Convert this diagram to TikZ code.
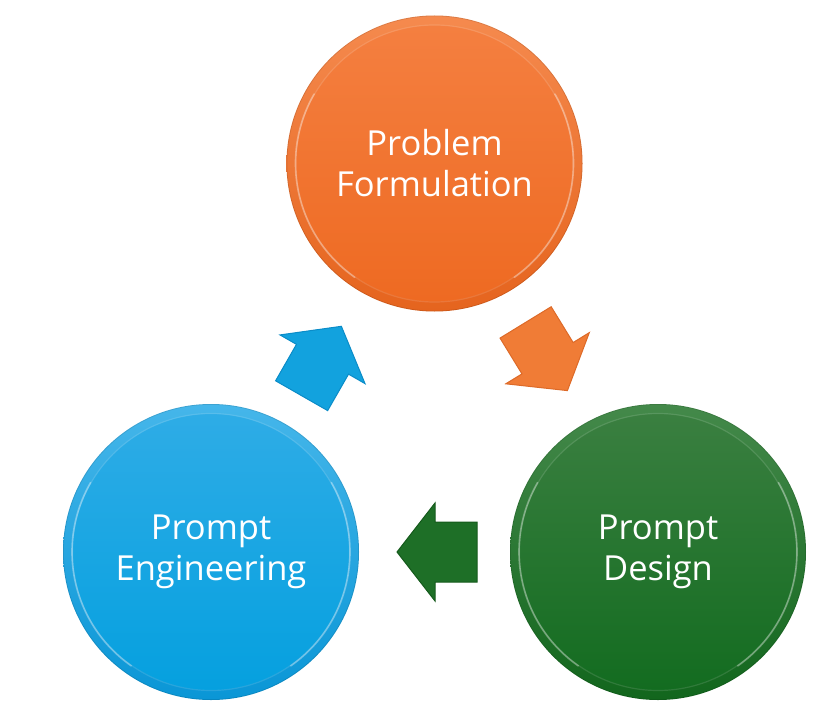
\documentclass[tikz,border=0pt]{standalone}
\usepackage{fontspec}
\setmainfont{Open Sans}
\usetikzlibrary{backgrounds}

% disc colours: outer rim (top/bottom), inner face (top/bottom), block arrow fill/edge
\definecolor{orRimT}{HTML}{F58A4E}
\definecolor{orRimB}{HTML}{E5641E}
\definecolor{orFaceT}{HTML}{F47F40}
\definecolor{orFaceB}{HTML}{EE6A22}
\definecolor{orArrow}{HTML}{F07C36}
\definecolor{orArrowEdge}{HTML}{DD6A28}

\definecolor{blRimT}{HTML}{45B6EA}
\definecolor{blRimB}{HTML}{0A96D6}
\definecolor{blFaceT}{HTML}{2EACE6}
\definecolor{blFaceB}{HTML}{05A0DF}
\definecolor{blArrow}{HTML}{12A2DE}
\definecolor{blArrowEdge}{HTML}{0B8CC8}

\definecolor{grRimT}{HTML}{44894A}
\definecolor{grRimB}{HTML}{12661D}
\definecolor{grFaceT}{HTML}{3A7F40}
\definecolor{grFaceB}{HTML}{136C20}
\definecolor{grArrow}{HTML}{1E6F27}
\definecolor{grArrowEdge}{HTML}{155A1C}

\tikzset{
  stage/.style={circle, minimum size=296pt, inner sep=0pt, align=center,
    text=white, font=\fontsize{34.5}{41}\selectfont},
  % block arrow pointing along +x, centred on the origin
  blockarrow/.pic={
    \path[pic actions] (-40,-30) -- (2,-30) -- (2,-49) -- (40,0)
      -- (2,49) -- (2,30) -- (-40,30) -- cycle;
  },
}

% bevelled disc behind a stage node: #1 node, #2 colour prefix
\newcommand\bevelDisc[2]{%
  \shade[top color=#2RimT, bottom color=#2RimB] (#1.center) circle[radius=148pt];
  \shade[top color=#2FaceT, bottom color=#2FaceB] (#1.center) circle[radius=138pt];
  \draw[white, opacity=0.12, line width=1.2pt] (#1.center) circle[radius=138.5pt];
  % light catching the bevel on the left and right
  \draw[white, opacity=0.35, line width=1.6pt, line cap=round]
    (#1.center) ++(150:139pt) arc[start angle=150, end angle=235, radius=139pt];
  \draw[white, opacity=0.35, line width=1.6pt, line cap=round]
    (#1.center) ++(-55:139pt) arc[start angle=-55, end angle=30, radius=139pt];
  \draw[black, opacity=0.10, line width=0.8pt] (#1.center) circle[radius=147.6pt];
}

\begin{document}
\begin{tikzpicture}[x=1pt, y=-1pt]
  \useasboundingbox (0,0) rectangle (838,709);

  % stages of the cycle
  \node[stage] (form) at (434.5,163.5) {Problem\\Formulation};
  \node[stage] (design) at (658,552) {Prompt\\Design};
  \node[stage] (eng) at (211,552) {Prompt\\Engineering};

  \begin{scope}[on background layer]
    \bevelDisc{form}{or}
    \bevelDisc{design}{gr}
    \bevelDisc{eng}{bl}
  \end{scope}

  % block arrows between the stages
  \pic[fill=orArrow, draw=orArrowEdge, line width=1pt, line join=miter,
       rotate=-58.5] at (546.5,356.5) {blockarrow};
  \pic[fill=grArrow, draw=grArrowEdge, line width=1pt, line join=miter,
       rotate=180] at (437,552) {blockarrow};
  \pic[fill=blArrow, draw=blArrowEdge, line width=1pt, line join=miter,
       rotate=60.2] at (321.5,361) {blockarrow};
\end{tikzpicture}
\end{document}
